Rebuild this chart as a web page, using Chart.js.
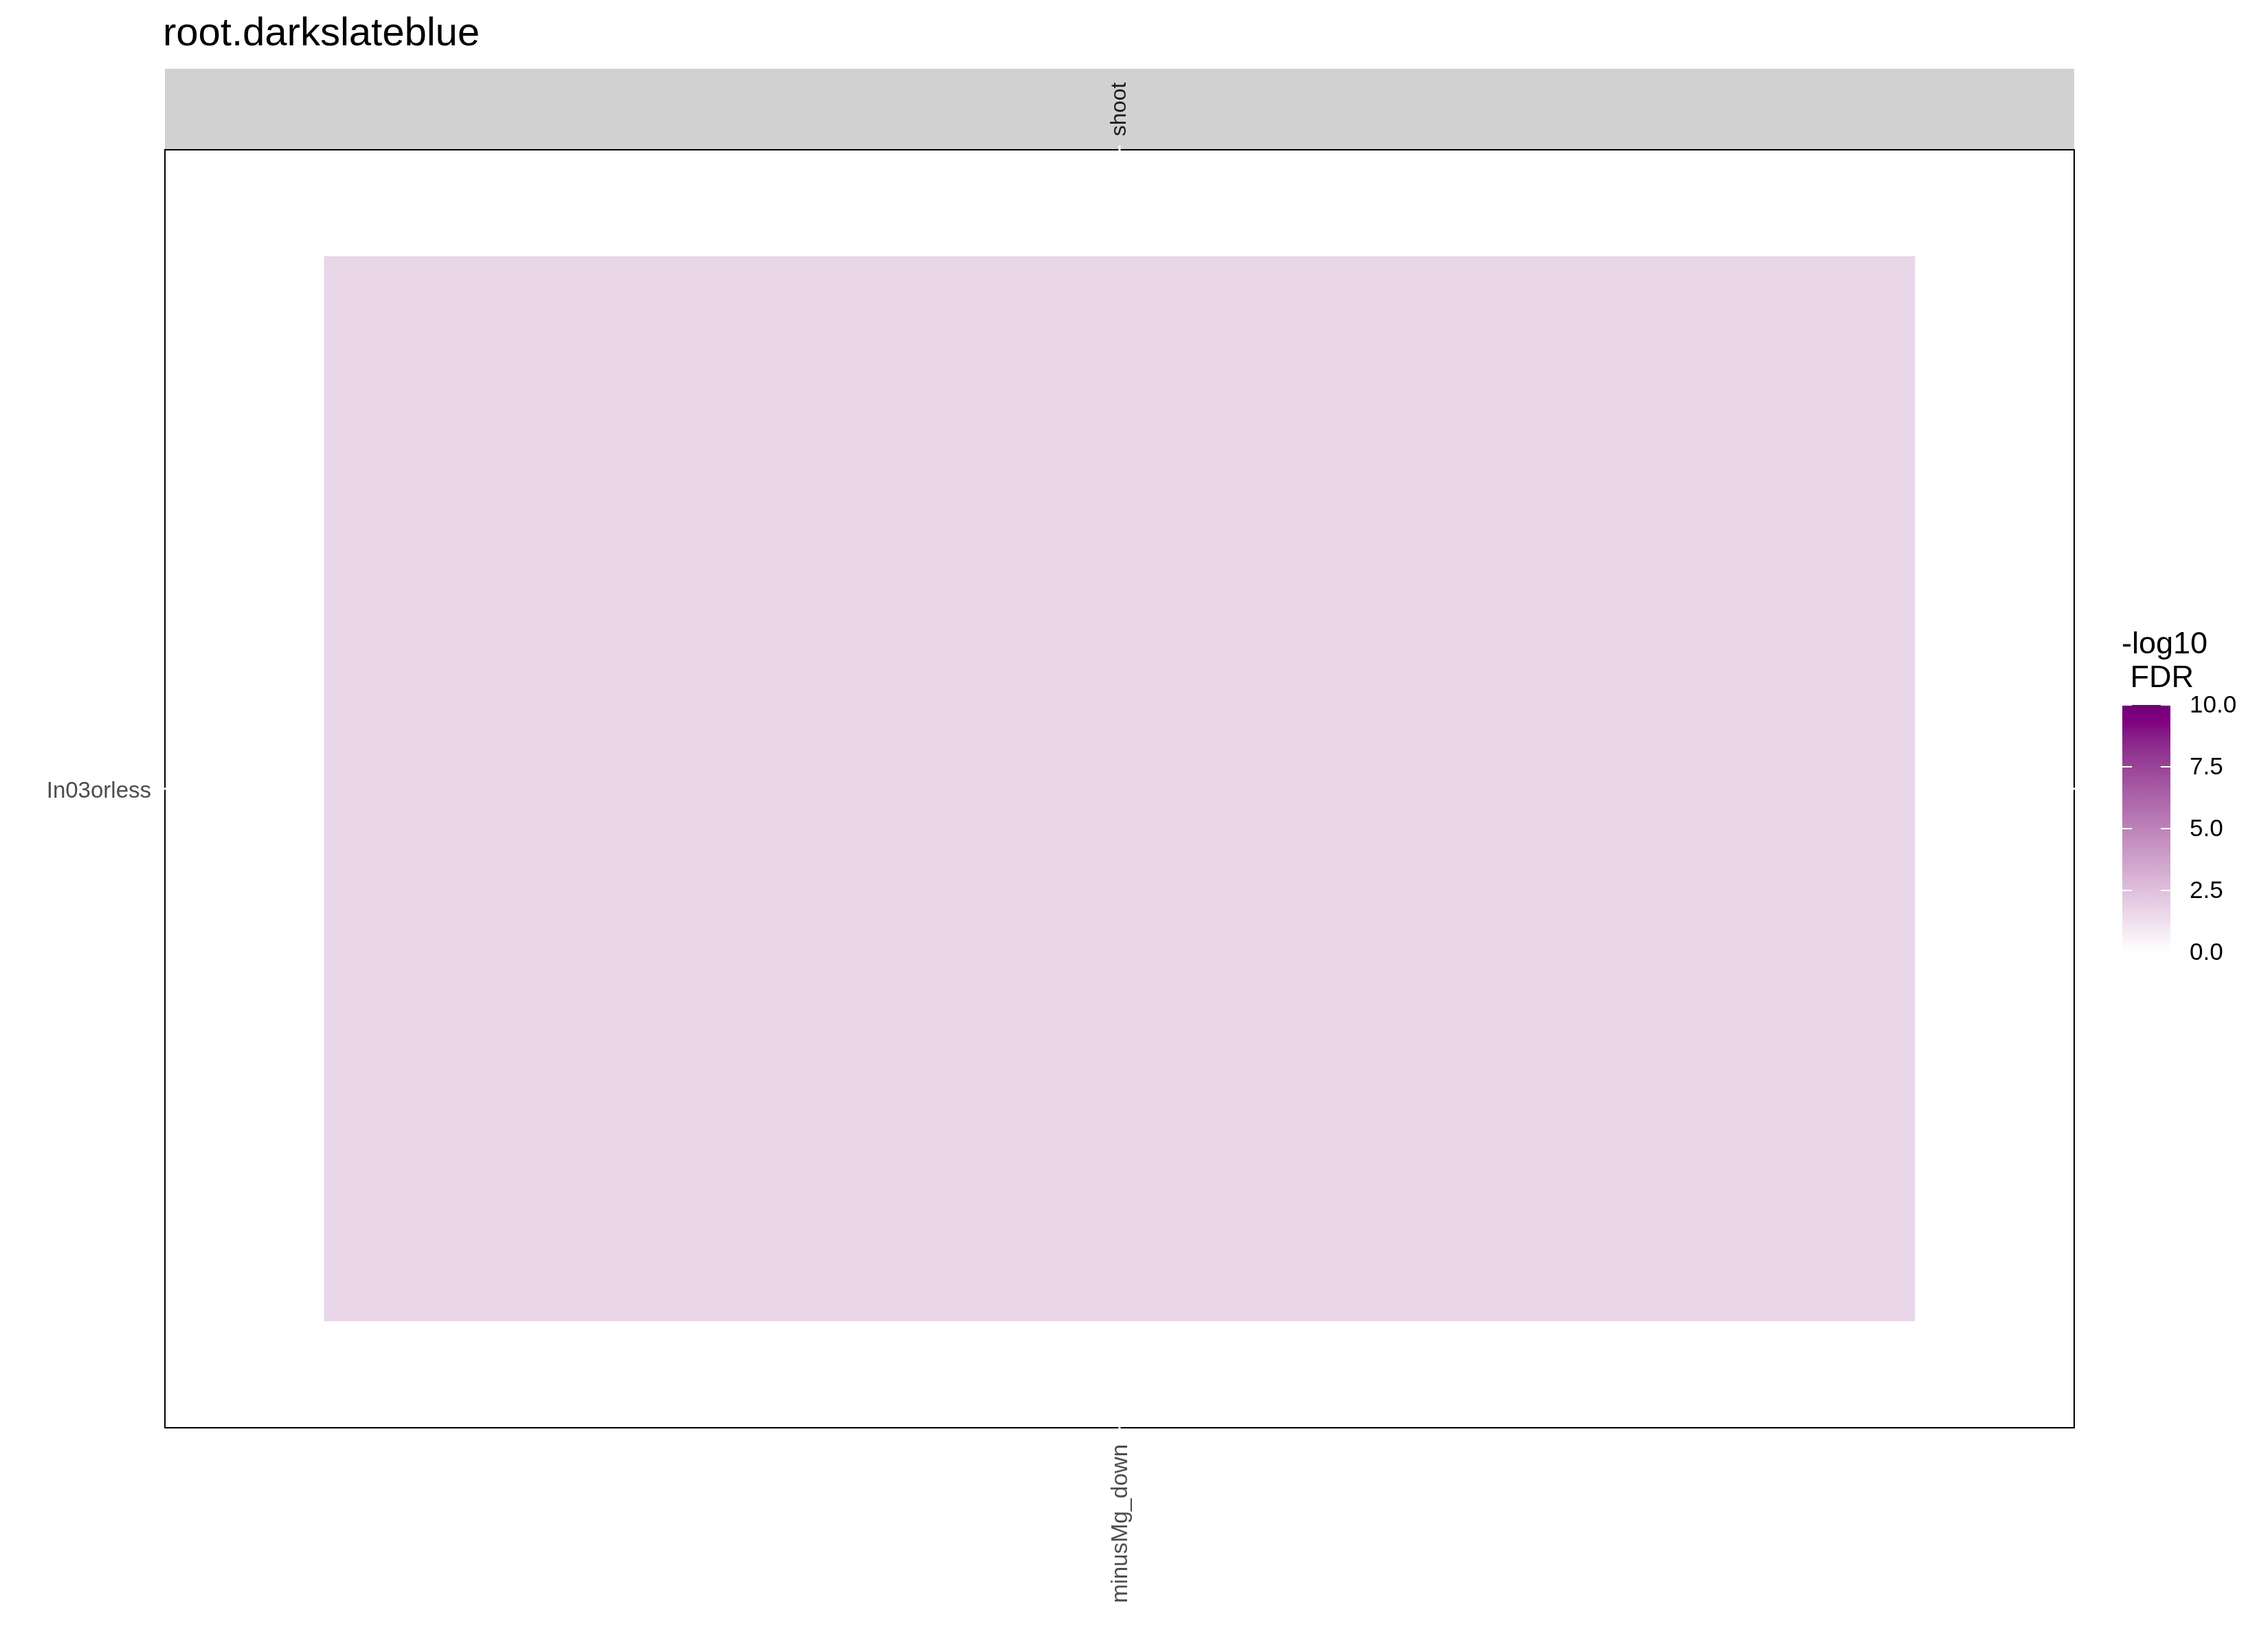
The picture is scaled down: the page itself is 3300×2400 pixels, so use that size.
<!DOCTYPE html>
<html><head><meta charset="utf-8">
<script src="https://cdn.jsdelivr.net/npm/chart.js@4.4.0/dist/chart.umd.min.js"></script>
<style>html,body{margin:0;padding:0;background:#fff}</style>
</head><body>
<canvas id="c" width="3300" height="2400" style="width:3300px;height:2400px;display:block"></canvas>
<script>
// ---------- data ----------
const plotTitle = 'root.darkslateblue';
const facetLabels = ['shoot'];
const xCategories = ['minusMg_down'];
const yCategories = ['In03orless'];
const fdrValues = [[1.6]];            // -log10 FDR, [row][column]
const legendTitleLines = ['-log10', ' FDR'];
const legendBreaks = [0, 2.5, 5, 7.5, 10];
const legendLimits = [0, 10];
const lowLab = [100, 0, 0];           // white, in CIE Lab
const highLab = [24, 63, -40];        // deep magenta, in CIE Lab

// ---------- colour scale (Lab interpolation, like ggplot) ----------
function linToSrgb(c){const v=c<=0.0031308?12.92*c:1.055*Math.pow(Math.max(c,0),1/2.4)-0.055;return Math.round(Math.max(0,Math.min(1,v))*255);}
function lab2rgb(l){const fy=(l[0]+16)/116,fx=fy+l[1]/500,fz=fy-l[2]/200;
  const fi=t=>t*t*t>0.008856?t*t*t:(t-16/116)/7.787;
  const X=fi(fx)*0.95047,Y=fi(fy),Z=fi(fz)*1.08883;
  return [linToSrgb(3.2406*X-1.5372*Y-0.4986*Z),linToSrgb(-0.9689*X+1.8758*Y+0.0415*Z),linToSrgb(0.0557*X-0.2040*Y+1.0570*Z)];}
function fillFor(v){let t=(v-legendLimits[0])/(legendLimits[1]-legendLimits[0]);t=Math.max(0,Math.min(1,t));
  const c=lab2rgb(lowLab.map((a,i)=>a+(highLab[i]-a)*t));return `rgb(${c[0]},${c[1]},${c[2]})`;}

const FONT='"Liberation Sans", Arial, Helvetica, sans-serif';

// ---------- datasets: one per row, tiles of height 1 centred on row index ----------
const datasets = yCategories.map((row, i) => ({
  label: row,
  data: xCategories.map(() => [i + 0.5, i + 1.5]),
  backgroundColor: xCategories.map((c, j) => fillFor(fdrValues[i][j])),
  borderWidth: 0,
  grouped: false,
  barPercentage: 1,
  categoryPercentage: 1 / 1.2
}));

const decorPlugin = {
  id: 'decor',
  afterDraw(chart) {
    const {ctx, chartArea: ca, scales} = chart;
    const xs = scales.x, ys = scales.y;
    ctx.save();
    // title
    ctx.fillStyle = '#000';
    ctx.font = `58px ${FONT}`;
    ctx.textAlign = 'left'; ctx.textBaseline = 'alphabetic';
    ctx.fillText(plotTitle, 237, 66);
    // facet strip
    const stripTop = 100;
    ctx.fillStyle = '#D1D1D1';
    ctx.fillRect(ca.left, stripTop, ca.right - ca.left, ca.top - stripTop);
    ctx.save();
    ctx.translate((ca.left + ca.right) / 2, (stripTop + ca.top) / 2);
    ctx.rotate(-Math.PI / 2);
    ctx.fillStyle = '#1A1A1A';
    ctx.font = `32px ${FONT}`;
    ctx.textAlign = 'center'; ctx.textBaseline = 'middle';
    ctx.fillText(facetLabels[0], 0, 0);
    ctx.restore();
    // panel border
    ctx.strokeStyle = '#000'; ctx.lineWidth = 2;
    ctx.strokeRect(ca.left, ca.top, ca.right - ca.left, ca.bottom - ca.top);
    // white tick marks crossing the border
    ctx.strokeStyle = '#fff'; ctx.lineWidth = 3;
    xs.ticks.forEach((t, k) => {
      const px = xs.getPixelForTick(k);
      ctx.beginPath(); ctx.moveTo(px, ca.top - 6); ctx.lineTo(px, ca.top + 2); ctx.stroke();
      ctx.beginPath(); ctx.moveTo(px, ca.bottom - 2); ctx.lineTo(px, ca.bottom + 6); ctx.stroke();
    });
    ys.ticks.forEach(t => {
      const py = ys.getPixelForValue(t.value);
      ctx.beginPath(); ctx.moveTo(ca.left - 6, py); ctx.lineTo(ca.left + 2, py); ctx.stroke();
      ctx.beginPath(); ctx.moveTo(ca.right - 2, py); ctx.lineTo(ca.right + 6, py); ctx.stroke();
    });
    // legend title
    ctx.fillStyle = '#000';
    ctx.font = `45px ${FONT}`;
    ctx.textAlign = 'left'; ctx.textBaseline = 'alphabetic';
    legendTitleLines.forEach((s, i) => ctx.fillText(s, 3087, 951 + i * 49));
    // colour bar
    const bx = 3088, bw = 70, bTop = 1026, bBot = 1386;
    const grad = ctx.createLinearGradient(0, bBot, 0, bTop);
    const N = 40;
    for (let k = 0; k <= N; k++) grad.addColorStop(k / N, fillFor(legendLimits[0] + (legendLimits[1] - legendLimits[0]) * k / N));
    ctx.fillStyle = grad;
    ctx.fillRect(bx, bTop, bw, bBot - bTop);
    ctx.font = `35px ${FONT}`;
    ctx.textBaseline = 'middle';
    legendBreaks.forEach(b => {
      const y = bBot - (b - legendLimits[0]) / (legendLimits[1] - legendLimits[0]) * (bBot - bTop);
      ctx.strokeStyle = '#fff'; ctx.lineWidth = 2;
      ctx.beginPath(); ctx.moveTo(bx, y); ctx.lineTo(bx + 14, y); ctx.stroke();
      ctx.beginPath(); ctx.moveTo(bx + bw - 14, y); ctx.lineTo(bx + bw, y); ctx.stroke();
      ctx.fillStyle = '#000';
      ctx.fillText(b.toFixed(1), 3186, y + 1);
    });
    ctx.restore();
  }
};

new Chart(document.getElementById('c'), {
  type: 'bar',
  data: { labels: xCategories, datasets },
  options: {
    responsive: false,
    animation: false,
    devicePixelRatio: 1,
    layout: { padding: { left: 0, top: 218, right: 282, bottom: 42 } },
    plugins: { legend: { display: false }, tooltip: { enabled: false }, title: { display: false } },
    scales: {
      x: {
        type: 'category',
        offset: true,
        grid: { display: false },
        border: { display: false },
        ticks: { autoSkip: false, minRotation: 90, maxRotation: 90, padding: 16, labelOffset: 2,
                 color: '#4D4D4D', font: { family: FONT, size: 33 } },
        afterFit(s) { s.height = 280; }
      },
      y: {
        type: 'linear',
        min: 0.4,
        max: yCategories.length + 0.6,
        grid: { display: false },
        border: { display: false },
        afterBuildTicks(s) { s.ticks = yCategories.map((_, i) => ({ value: i + 1 })); },
        ticks: { autoSkip: false, padding: 12, labelOffset: 4, color: '#4D4D4D', font: { family: FONT, size: 33 },
                 callback: (v) => yCategories[Math.round(v) - 1] },
        afterFit(s) { s.width = 240; }
      }
    }
  },
  plugins: [decorPlugin]
});
</script>
</body></html>
